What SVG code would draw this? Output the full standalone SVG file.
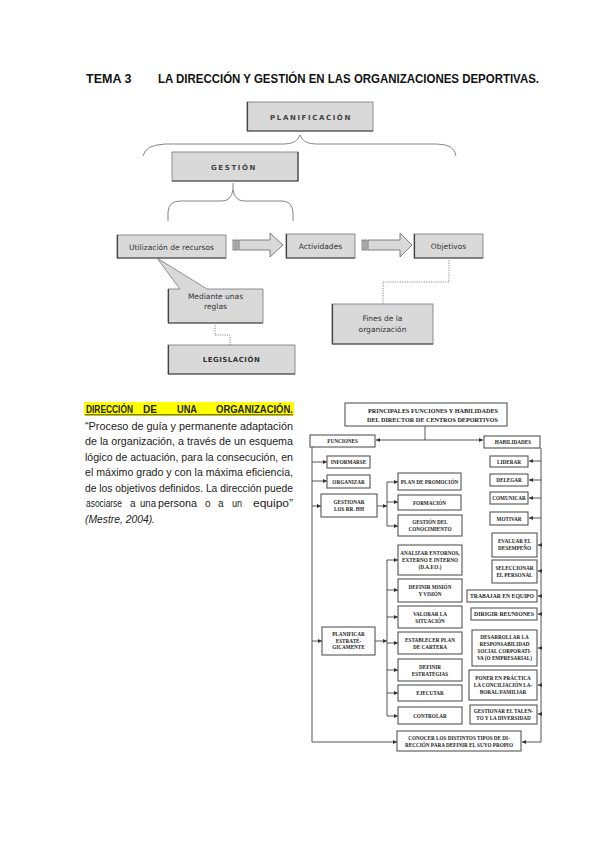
<svg xmlns="http://www.w3.org/2000/svg" width="599" height="848" viewBox="0 0 599 848">
<defs>
<style>
.title{font-family:"Liberation Sans",Arial,sans-serif;font-weight:bold;font-size:12.5px;fill:#111}
.gb{fill:#d9d9d9;stroke:#777;stroke-width:0.8}
.sh{fill:none;stroke:#444;stroke-width:1.2}
.gt{font-family:"DejaVu Sans",sans-serif;font-size:7.5px;fill:#333;text-anchor:middle}
.gs{font-family:"DejaVu Sans",sans-serif;font-size:7px;font-weight:bold;fill:#444;text-anchor:middle;letter-spacing:1.6px}
.br{fill:none;stroke:#666;stroke-width:0.8}
.dot{fill:none;stroke:#888;stroke-width:1;stroke-dasharray:1.2,1.2}
.para{font-family:"Liberation Sans",Arial,sans-serif;font-size:10px;fill:#222}
.bx{fill:#fff;stroke:#555;stroke-width:1.1}
.t{font-family:"Liberation Serif","Times New Roman",serif;font-weight:bold;font-size:5.2px;fill:#222;text-anchor:middle}
.ln{fill:none;stroke:#444;stroke-width:0.9}
.ar{fill:none;stroke:#444;stroke-width:0.9;marker-end:url(#ah)}
.blk{fill:#d9d9d9;stroke:#666;stroke-width:0.8}
</style>
<marker id="ah" viewBox="0 0 6 6" refX="6" refY="3" markerWidth="5" markerHeight="4" markerUnits="userSpaceOnUse" orient="auto">
<path d="M0,0 L6,3 L0,6 Z" fill="#333"/>
</marker>
</defs>

<g id="header">
<text class="title" x="86" y="83">TEMA 3</text>
<text class="title" x="158" y="83" textLength="381" lengthAdjust="spacingAndGlyphs">LA DIRECCIÓN Y GESTIÓN EN LAS ORGANIZACIONES DEPORTIVAS.</text>
</g>

<!-- Top diagram -->
<g id="planificacion">
<rect class="gb" x="247" y="102" width="126" height="29"/>
<path class="sh" d="M247.5,102 V131 H373"/>
<text class="gs" x="311" y="119.5">PLANIFICACIÓN</text>
</g>
<g id="brace-big">
<path class="br" d="M143,156 Q145,145 165,144 L284,144 Q297,144 300,135 Q303,144 316,144 L436,144 Q455,144 456,156"/>
</g>
<g id="gestion">
<rect class="gb" x="172" y="152" width="126" height="29"/>
<path class="sh" d="M172,181 H298 V152"/>
<text class="gs" x="234" y="169.5">GESTIÓN</text>
</g>
<g id="brace-small">
<path class="br" d="M168,221 L168,212 Q169,201 180,201 L222,201 Q231,201 233,190 L233,183 M233,190 Q235,201 244,201 L282,201 Q292,201 293,212 L293,221"/>
</g>
<g id="recursos">
<rect class="gb" x="117" y="235" width="109" height="23"/>
<path class="sh" d="M117.5,235 V258 H226"/>
<text class="gt" x="171.5" y="249.5">Utilización de recursos</text>
</g>
<g id="arrow1">
<rect class="blk" x="233" y="240" width="2" height="10"/>
<rect class="blk" x="236" y="240" width="2" height="10"/>
<path class="blk" d="M239,240 H270 V233 L283,245 L270,257 V250 H239 Z"/>
</g>
<g id="actividades">
<rect class="gb" x="286" y="234" width="69" height="24"/>
<path class="sh" d="M286.5,234 V258 H355"/>
<text class="gt" x="320.5" y="249">Actividades</text>
</g>
<g id="arrow2">
<rect class="blk" x="362" y="240" width="2" height="10"/>
<rect class="blk" x="365" y="240" width="2" height="10"/>
<path class="blk" d="M368,240 H400 V233 L412,245 L400,257 V250 H368 Z"/>
</g>
<g id="objetivos">
<rect class="gb" x="414" y="234" width="69" height="24"/>
<path class="sh" d="M414.5,234 V258 H483"/>
<text class="gt" x="448.5" y="249">Objetivos</text>
</g>
<g id="reglas">
<path class="gb" d="M168,289 H180 L157,258 L207,289 H263 V323 H168 Z"/>
<path class="sh" d="M168.5,289 V323 H263"/>
<text class="gt" x="215.5" y="298.5">Mediante unas</text>
<text class="gt" x="215.5" y="308.5">reglas</text>
</g>
<g id="legislacion">
<rect class="gb" x="168" y="345" width="127" height="29"/>
<path class="sh" d="M168.5,345 V374 H295"/>
<text class="gt" x="231.5" y="362" style="font-weight:bold;font-size:7px;letter-spacing:0.5px">LEGISLACIÓN</text>
</g>
<g id="fines">
<rect class="gb" x="332" y="304" width="101" height="40"/>
<path class="sh" d="M332.5,304 V344 H433"/>
<text class="gt" x="382.5" y="321">Fines de la</text>
<text class="gt" x="382.5" y="331.5">organización</text>
</g>
<g id="top-connectors">
<path class="dot" d="M215,323 V335 H230 V345"/>
<path class="dot" d="M449,258 V282 H383 V304"/>
</g>

<!-- Paragraph -->
<g id="paragraph">
<rect x="84" y="402" width="210" height="14" fill="#ffff00"/>
<g class="para" style="font-weight:bold">
<text x="86" y="413" textLength="47" lengthAdjust="spacingAndGlyphs">DIRECCIÓN</text>
<text x="143" y="413" textLength="14" lengthAdjust="spacingAndGlyphs">DE</text>
<text x="177" y="413" textLength="20" lengthAdjust="spacingAndGlyphs">UNA</text>
<text x="216" y="413" textLength="77" lengthAdjust="spacingAndGlyphs">ORGANIZACIÓN.</text>
</g>
<line x1="85" y1="414.8" x2="293" y2="414.8" stroke="#111" stroke-width="0.8"/>
<text class="para" x="85" y="429.5" textLength="208" lengthAdjust="spacingAndGlyphs">“Proceso de guía y permanente adaptación</text>
<text class="para" x="85" y="445" textLength="208" lengthAdjust="spacingAndGlyphs">de la organización, a través de un esquema</text>
<text class="para" x="85" y="460.5" textLength="208" lengthAdjust="spacingAndGlyphs">lógico de actuación, para la consecución, en</text>
<text class="para" x="85" y="476" textLength="208" lengthAdjust="spacingAndGlyphs">el máximo grado y con la máxima eficiencia,</text>
<text class="para" x="85" y="491.5" textLength="208" lengthAdjust="spacingAndGlyphs">de los objetivos definidos. La dirección puede</text>
<g class="para">
<text x="86" y="507" textLength="36" lengthAdjust="spacingAndGlyphs">asociarse</text>
<text x="130" y="507">a</text>
<text x="140" y="507" textLength="16" lengthAdjust="spacingAndGlyphs">una</text>
<text x="158" y="507" textLength="39" lengthAdjust="spacingAndGlyphs">persona</text>
<text x="205" y="507">o</text>
<text x="218" y="507">a</text>
<text x="232" y="507" textLength="10" lengthAdjust="spacingAndGlyphs">un</text>
<text x="253" y="507" textLength="40" lengthAdjust="spacingAndGlyphs">equipo”</text>
</g>
<text class="para" x="85" y="522.5" style="font-style:italic" textLength="70" lengthAdjust="spacingAndGlyphs">(Mestre, 2004).</text>
</g>

<!-- Right diagram -->
<g id="connectors">
<path class="ln" d="M425,426 V440"/>
<path class="ar" d="M425,440 H376"/>
<path class="ar" d="M425,440 H483"/>
<path class="ln" d="M312,447 V742"/>
<path class="ar" d="M312,462 H327"/>
<path class="ar" d="M312,481 H327"/>
<path class="ar" d="M312,506 H321"/>
<path class="ar" d="M312,641 H322"/>
<path class="ar" d="M312,742 H397"/>
<path class="ar" d="M377,506 H387"/>
<path class="ln" d="M387,482 V526"/>
<path class="ar" d="M387,482 H398"/>
<path class="ar" d="M387,502 H398"/>
<path class="ar" d="M387,526 H398"/>
<path class="ar" d="M375,641 H387"/>
<path class="ln" d="M387,560 V716"/>
<path class="ar" d="M387,560 H398"/>
<path class="ar" d="M387,590 H398"/>
<path class="ar" d="M387,617 H398"/>
<path class="ar" d="M387,643 H398"/>
<path class="ar" d="M387,670 H398"/>
<path class="ar" d="M387,693 H398"/>
<path class="ar" d="M387,716 H398"/>
<path class="ln" d="M541,448 V742"/>
<path class="ar" d="M541,461 H529"/>
<path class="ar" d="M541,480 H529"/>
<path class="ar" d="M541,498 H529"/>
<path class="ar" d="M541,518 H529"/>
<path class="ar" d="M541,545 H538"/>
<path class="ar" d="M541,571 H538"/>
<path class="ar" d="M541,596 H538"/>
<path class="ar" d="M541,614 H538"/>
<path class="ar" d="M541,648 H538"/>
<path class="ar" d="M541,685 H538"/>
<path class="ar" d="M541,714 H538"/>
<path class="ar" d="M541,742 H522"/>
</g>

<g id="titulo-dir">
<rect class="bx" x="345" y="403" width="162" height="23"/>
<text class="t" x="368" y="413" style="text-anchor:start;font-size:5.6px" textLength="130" lengthAdjust="spacingAndGlyphs">PRINCIPALES FUNCIONES Y HABILIDADES</text>
<text class="t" x="367" y="421.5" style="text-anchor:start;font-size:5.6px" textLength="131" lengthAdjust="spacingAndGlyphs">DEL DIRECTOR DE CENTROS DEPORTIVOS</text>
</g>
<g id="funciones"><rect class="bx" x="310" y="435" width="65" height="12"/><text class="t" x="342.5" y="443">FUNCIONES</text></g>
<g id="habilidades"><rect class="bx" x="484" y="436" width="56" height="12"/><text class="t" x="513" y="444">HABILIDADES</text></g>

<g id="informarse"><rect class="bx" x="327" y="456" width="43" height="12"/><text class="t" x="348.5" y="464">INFORMARSE</text></g>
<g id="organizar"><rect class="bx" x="327" y="475" width="43" height="13"/><text class="t" x="348.5" y="483.5">ORGANIZAR</text></g>
<g id="gestionar-rrhh"><rect class="bx" x="321" y="494" width="56" height="23"/><text class="t" x="349" y="503.5">GESTIONAR</text><text class="t" x="349" y="511">LOS RR. HH</text></g>
<g id="planificar"><rect class="bx" x="322" y="627" width="53" height="28"/><text class="t" x="348.5" y="636">PLANIFICAR</text><text class="t" x="348.5" y="642.5">ESTRATÉ-</text><text class="t" x="348.5" y="649">GICAMENTE</text></g>

<g id="plan-promocion"><rect class="bx" x="398" y="473" width="63" height="17"/><text class="t" x="429.5" y="483.5">PLAN DE PROMOCIÓN</text></g>
<g id="formacion"><rect class="bx" x="398" y="495" width="63" height="15"/><text class="t" x="429.5" y="504.5">FORMACIÓN</text></g>
<g id="gestion-conocimiento"><rect class="bx" x="398" y="515" width="64" height="21"/><text class="t" x="430" y="524">GESTIÓN DEL</text><text class="t" x="430" y="531">CONOCIMIENTO</text></g>
<g id="analizar"><rect class="bx" x="398" y="545" width="64" height="30"/><text class="t" x="430" y="555">ANALIZAR ENTORNOS,</text><text class="t" x="430" y="562">EXTERNO E INTERNO</text><text class="t" x="430" y="569">(D.A.F.O.)</text></g>
<g id="mision"><rect class="bx" x="398" y="579" width="64" height="23"/><text class="t" x="430" y="589">DEFINIR MISIÓN</text><text class="t" x="430" y="596">Y VISIÓN</text></g>
<g id="valorar"><rect class="bx" x="398" y="606" width="64" height="22"/><text class="t" x="430" y="615.5">VALORAR LA</text><text class="t" x="430" y="622.5">SITUACIÓN</text></g>
<g id="cartera"><rect class="bx" x="398" y="632" width="64" height="22"/><text class="t" x="430" y="641.5">ESTABLECER PLAN</text><text class="t" x="430" y="648.5">DE CARTERA</text></g>
<g id="estrategias"><rect class="bx" x="398" y="659" width="64" height="22"/><text class="t" x="430" y="668.5">DEFINIR</text><text class="t" x="430" y="675.5">ESTRATEGIAS</text></g>
<g id="ejecutar"><rect class="bx" x="398" y="685" width="64" height="16"/><text class="t" x="430" y="695">EJECUTAR</text></g>
<g id="controlar"><rect class="bx" x="398" y="707" width="64" height="17"/><text class="t" x="430" y="717.5">CONTROLAR</text></g>

<g id="liderar"><rect class="bx" x="490" y="456" width="38" height="11"/><text class="t" x="509" y="463.5">LIDERAR</text></g>
<g id="delegar"><rect class="bx" x="490" y="474" width="38" height="12"/><text class="t" x="509" y="482">DELEGAR</text></g>
<g id="comunicar"><rect class="bx" x="490" y="492" width="38" height="12"/><text class="t" x="509" y="500">COMUNICAR</text></g>
<g id="motivar"><rect class="bx" x="490" y="512" width="38" height="13"/><text class="t" x="509" y="520.5">MOTIVAR</text></g>
<g id="evaluar"><rect class="bx" x="492" y="533" width="45" height="24"/><text class="t" x="514.5" y="543">EVALUAR EL</text><text class="t" x="514.5" y="550">DESEMPEÑO</text></g>
<g id="seleccionar"><rect class="bx" x="492" y="560" width="45" height="23"/><text class="t" x="514.5" y="570">SELECCIONAR</text><text class="t" x="514.5" y="577">EL PERSONAL</text></g>
<g id="trabajar"><rect class="bx" x="467" y="590" width="70" height="12"/><text class="t" x="502" y="598" textLength="64" lengthAdjust="spacingAndGlyphs">TRABAJAR EN EQUIPO</text></g>
<g id="dirigir"><rect class="bx" x="471" y="608" width="66" height="12"/><text class="t" x="504" y="616" textLength="60" lengthAdjust="spacingAndGlyphs">DIRIGIR REUNIONES</text></g>
<g id="rsc"><rect class="bx" x="472" y="630" width="65" height="36"/><text class="t" x="504.5" y="639">DESARROLLAR LA</text><text class="t" x="504.5" y="646">RESPONSABILIDAD</text><text class="t" x="504.5" y="653">SOCIAL CORPORATI-</text><text class="t" x="504.5" y="660">VA (O EMPRESARIAL)</text></g>
<g id="conciliacion"><rect class="bx" x="469" y="670" width="68" height="30"/><text class="t" x="503" y="680">PONER EN PRÁCTICA</text><text class="t" x="503" y="687">LA CONCILIACIÓN LA-</text><text class="t" x="503" y="694">BORAL/FAMILIAR</text></g>
<g id="talento"><rect class="bx" x="470" y="705" width="67" height="19"/><text class="t" x="503.5" y="713">GESTIONAR EL TALEN-</text><text class="t" x="503.5" y="720">TO Y LA DIVERSIDAD</text></g>
<g id="conocer"><rect class="bx" x="397" y="731" width="124" height="20"/><text class="t" x="459" y="739.5">CONOCER LOS DISTINTOS TIPOS DE DI-</text><text class="t" x="459" y="746.5">RECCIÓN PARA DEFINIR EL SUYO PROPIO</text></g>
</svg>
